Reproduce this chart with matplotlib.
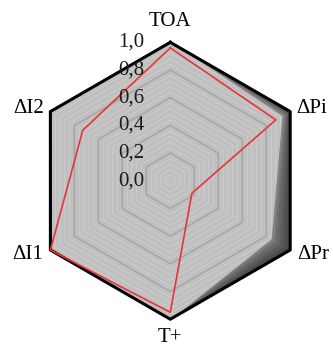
import numpy as np
import matplotlib
matplotlib.use("Agg")
import matplotlib.pyplot as plt
import matplotlib.transforms as mtransforms

plt.rcParams['font.family'] = ['Liberation Serif', 'DejaVu Serif']

categories = ['TOA', 'ΔPi', 'ΔPr', 'T+', 'ΔI1', 'ΔI2']
tick_values = [0.0, 0.2, 0.4, 0.6, 0.8, 1.0]
tick_labels = ['0,0', '0,2', '0,4', '0,6', '0,8', '1,0']

# grey layers, outermost (darkest) first
layer_values = [
    [1.00, 1.00, 1.00, 1.00, 1.00, 1.00],
    [1.00, 0.99, 0.97, 1.00, 1.00, 1.00],
    [1.00, 0.98, 0.94, 1.00, 1.00, 1.00],
    [1.00, 0.97, 0.91, 1.00, 1.00, 1.00],
    [1.00, 0.96, 0.88, 1.00, 1.00, 1.00],
    [1.00, 0.95, 0.86, 1.00, 0.99, 1.00],
    [1.00, 0.93, 0.84, 1.00, 0.98, 0.99],
]
layer_colors = ['#454545', '#4f4f4f', '#5a5a5a', '#666666', '#727272', '#828282', '#c0c0c0']

red_values = [0.96, 0.88, 0.18, 0.95, 1.00, 0.73]

n = len(categories)
angles = np.arange(n) * 2 * np.pi / n

def closed(v):
    return list(v) + [v[0]]

ang = closed(angles)

fig = plt.figure(figsize=(3.33, 3.47), dpi=100)
ax = fig.add_axes([0.0955, 0.080, 0.8318, 0.798], projection='polar')
ax.set_theta_offset(np.pi / 2)
ax.set_theta_direction(-1)
ax.set_ylim(0, 1)
ax.grid(False)
ax.spines['polar'].set_visible(False)
ax.set_xticks([])
ax.set_yticks([])
ax.patch.set_alpha(0)

patches = []
for vals, col in zip(layer_values, layer_colors):
    p = ax.fill(ang, closed(vals), color=col, zorder=1, clip_on=False)
    patches.append(p[0])
light = patches[-1]

# hexagonal grid, minor and major, only inside the light area
minor = np.arange(0.04, 1.0, 0.04)
for r in minor:
    ln, = ax.plot(ang, [r] * (n + 1), color='#cfcfcf', lw=0.6, zorder=2)
    ln.set_clip_path(light)
for r in tick_values[1:-1]:
    ln, = ax.plot(ang, [r] * (n + 1), color='#a3a3a3', lw=1.0, zorder=3)
    ln.set_clip_path(light)

# outer border
ax.plot(ang, [1.0] * (n + 1), color='black', lw=2.2, zorder=4, clip_on=False)

# red series
ax.plot(ang, closed(red_values), color='#e8343a', lw=1.2, zorder=5, clip_on=False)

# value labels left of the top axis
off = mtransforms.offset_copy(ax.transData, fig=fig, x=-26, y=0, units='dots')
for v, lab in zip(tick_values, tick_labels):
    ax.text(0, v, lab, transform=off, ha='right', va='center', fontsize=15,
            color='#1a1a1a', zorder=6)

# category labels
fs = 15
ax.text(angles[0], 1.15, categories[0], ha='center', va='center', fontsize=fs)
ax.text(angles[1], 1.05, categories[1], ha='left', va='center', fontsize=fs)
ax.text(angles[2], 1.06, categories[2], ha='left', va='center', fontsize=fs)
ax.text(angles[3], 1.13, categories[3], ha='center', va='center', fontsize=fs)
ax.text(angles[4], 1.06, categories[4], ha='right', va='center', fontsize=fs)
ax.text(angles[5], 1.05, categories[5], ha='right', va='center', fontsize=fs)

fig.savefig('out.png', dpi=100)
